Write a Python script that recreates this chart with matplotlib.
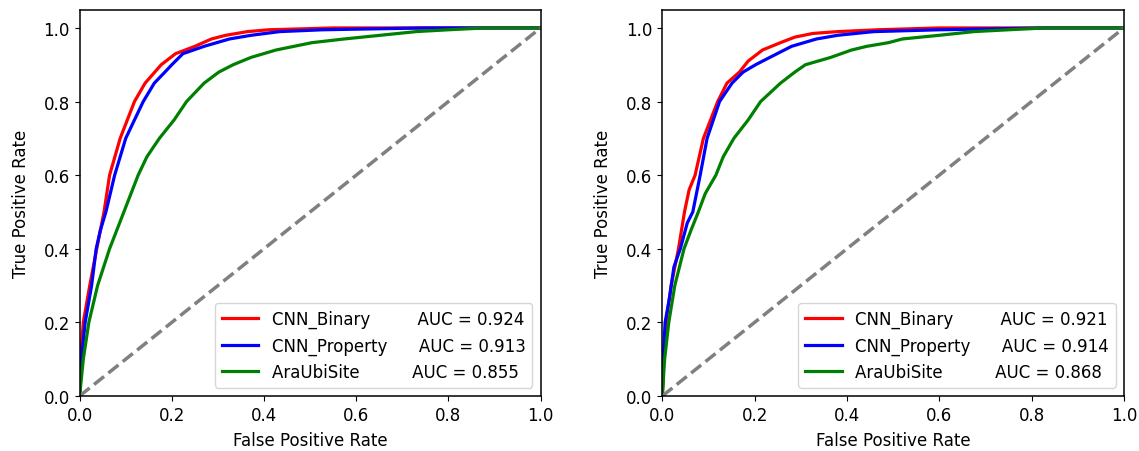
import matplotlib
matplotlib.use("Agg")
import matplotlib.pyplot as plt

# ---- data ----
series_names = ["CNN_Binary", "CNN_Property", "AraUbiSite"]
series_colors = ["red", "blue", "green"]

left_auc = ["0.924", "0.913", "0.855"]
right_auc = ["0.921", "0.914", "0.868"]

# Left panel
left_binary_fpr = [0.0, 0.002, 0.008, 0.022, 0.037, 0.053, 0.065, 0.088, 0.119, 0.142, 0.177, 0.208, 0.25, 0.286, 0.317, 0.364, 0.41, 0.55, 1.0]
left_binary_tpr = [0.0, 0.10, 0.20, 0.30, 0.40, 0.50, 0.60, 0.70, 0.80, 0.85, 0.90, 0.93, 0.95, 0.97, 0.98, 0.99, 0.995, 1.0, 1.0]

left_prop_fpr = [0.0, 0.004, 0.012, 0.026, 0.036, 0.045, 0.057, 0.076, 0.10, 0.138, 0.162, 0.185, 0.20, 0.224, 0.27, 0.325, 0.372, 0.434, 0.527, 0.75, 1.0]
left_prop_tpr = [0.0, 0.10, 0.20, 0.30, 0.40, 0.45, 0.50, 0.60, 0.70, 0.80, 0.85, 0.88, 0.90, 0.93, 0.95, 0.97, 0.98, 0.99, 0.995, 1.0, 1.0]

left_ara_fpr = [0.0, 0.008, 0.02, 0.039, 0.065, 0.096, 0.127, 0.146, 0.173, 0.205, 0.232, 0.27, 0.302, 0.333, 0.372, 0.426, 0.465, 0.504, 0.574, 0.652, 0.73, 0.80, 0.88, 1.0]
left_ara_tpr = [0.0, 0.10, 0.20, 0.30, 0.40, 0.50, 0.60, 0.65, 0.70, 0.75, 0.80, 0.85, 0.88, 0.90, 0.92, 0.94, 0.95, 0.96, 0.97, 0.98, 0.99, 0.995, 1.0, 1.0]

# Right panel
right_binary_fpr = [0.0, 0.003, 0.008, 0.019, 0.035, 0.048, 0.058, 0.071, 0.089, 0.12, 0.14, 0.167, 0.186, 0.217, 0.256, 0.287, 0.326, 0.38, 0.466, 0.60, 1.0]
right_binary_tpr = [0.0, 0.10, 0.20, 0.30, 0.40, 0.50, 0.56, 0.60, 0.70, 0.80, 0.85, 0.88, 0.91, 0.94, 0.96, 0.975, 0.985, 0.99, 0.995, 1.0, 1.0]

right_prop_fpr = [0.0, 0.002, 0.006, 0.016, 0.025, 0.039, 0.054, 0.066, 0.082, 0.097, 0.124, 0.151, 0.175, 0.202, 0.233, 0.28, 0.334, 0.38, 0.458, 0.60, 0.83, 1.0]
right_prop_tpr = [0.0, 0.10, 0.20, 0.27, 0.35, 0.40, 0.47, 0.50, 0.60, 0.70, 0.80, 0.85, 0.88, 0.90, 0.92, 0.95, 0.97, 0.98, 0.99, 0.995, 1.0, 1.0]

right_ara_fpr = [0.0, 0.005, 0.014, 0.027, 0.047, 0.062, 0.078, 0.093, 0.116, 0.132, 0.155, 0.186, 0.213, 0.256, 0.287, 0.31, 0.365, 0.41, 0.443, 0.49, 0.52, 0.60, 0.675, 0.75, 0.83, 1.0]
right_ara_tpr = [0.0, 0.10, 0.20, 0.30, 0.40, 0.45, 0.50, 0.55, 0.60, 0.65, 0.70, 0.75, 0.80, 0.85, 0.88, 0.90, 0.92, 0.94, 0.95, 0.96, 0.97, 0.98, 0.99, 0.995, 1.0, 1.0]

# spaces used in the legend labels to line up the AUC column
label_pad = [9, 6, 10]

x_ticks = [0.0, 0.2, 0.4, 0.6, 0.8, 1.0]
y_ticks = [0.0, 0.2, 0.4, 0.6, 0.8, 1.0]

# ---- figure ----
plt.rcParams["font.family"] = ["DejaVu Sans"]
plt.rcParams["font.size"] = 12
plt.rcParams["axes.linewidth"] = 1.1

fig = plt.figure(figsize=(11.39, 4.52), dpi=100)
ax_left = fig.add_axes([0.0699, 0.1217, 0.4047, 0.855])
ax_right = fig.add_axes([0.5815, 0.1217, 0.4052, 0.855])

panels = [
    (ax_left, left_auc,
     [(left_binary_fpr, left_binary_tpr), (left_prop_fpr, left_prop_tpr), (left_ara_fpr, left_ara_tpr)]),
    (ax_right, right_auc,
     [(right_binary_fpr, right_binary_tpr), (right_prop_fpr, right_prop_tpr), (right_ara_fpr, right_ara_tpr)]),
]

for ax, aucs, curves in panels:
    for name, color, auc, pad, (fpr, tpr) in zip(series_names, series_colors, aucs, label_pad, curves):
        ax.plot(fpr, tpr, color=color, lw=2.3, label=name + " " * pad + "AUC = " + auc)
    ax.plot([0, 1], [0, 1], color="gray", lw=2.5, linestyle="--")
    ax.set_xlim(0.0, 1.0)
    ax.set_ylim(0.0, 1.05)
    ax.set_xticks(x_ticks)
    ax.set_yticks(y_ticks)
    ax.set_xlabel("False Positive Rate", labelpad=5)
    ax.set_ylabel("True Positive Rate", labelpad=10)
    ax.legend(loc="lower right", fontsize=12, handlelength=2.2)

fig.savefig("out.png", dpi=100)
